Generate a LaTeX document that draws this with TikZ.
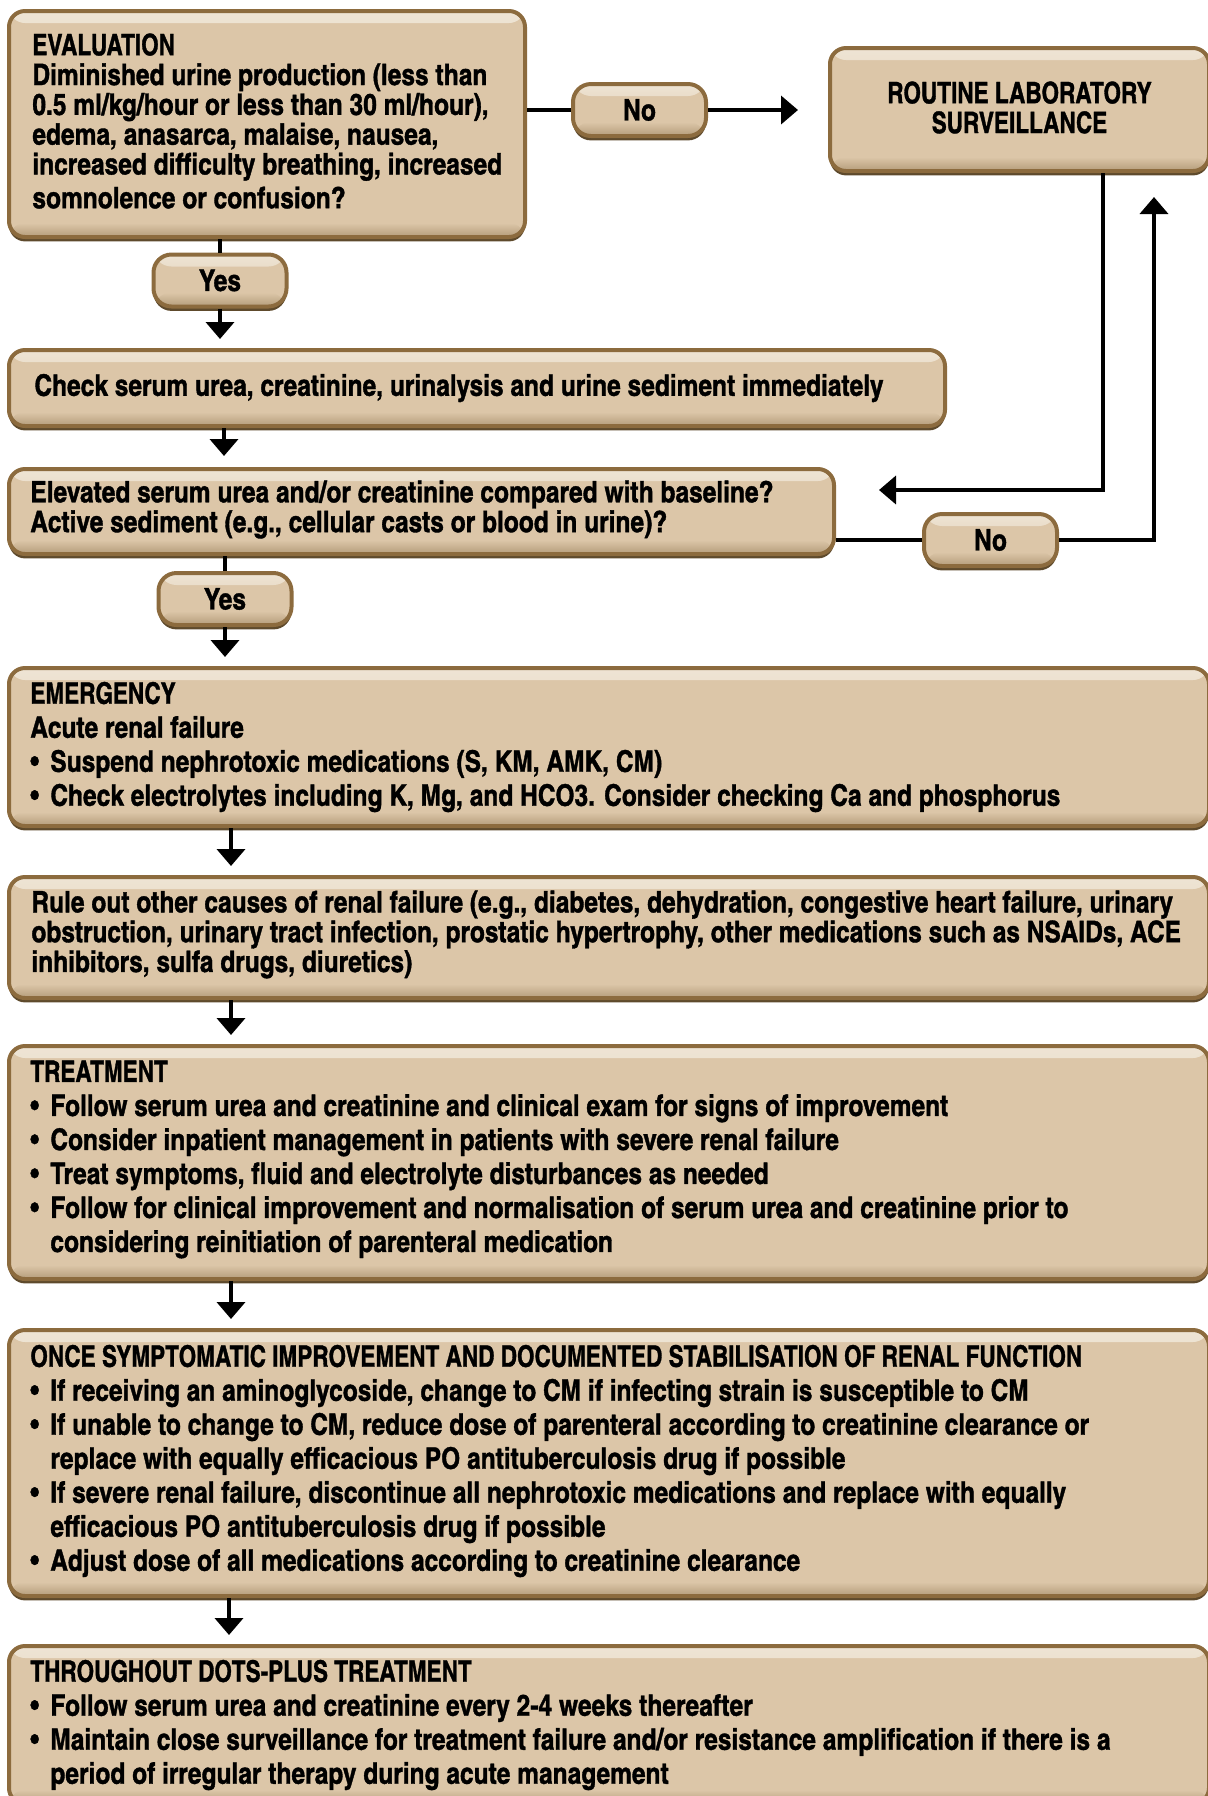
\documentclass[tikz,border=0pt]{standalone}
\usepackage{graphicx}
\usepackage{fontspec}
\IfFontExistsTF{texgyreheroscn-bold.otf}
  {\setmainfont{texgyreheroscn-bold.otf}[FakeStretch=1.01,FakeBold=1.2]}
  {\setmainfont{TeX Gyre Heros}[FakeStretch=0.85,FakeBold=3]}
\usetikzlibrary{arrows.meta,shadows}
\definecolor{boxfill}{HTML}{DCC6A8}
\definecolor{bordc}{HTML}{8C6B3E}
\definecolor{botc}{HTML}{5E4A2C}
\definecolor{hilite}{HTML}{EEE4D4}
\definecolor{shadowc}{HTML}{B49C7A}
\newlength\bulw
\setlength\bulw{10pt}
\newcommand\bitem{\makebox[\bulw][l]{\textbullet}}
\newcommand\bcont{\hspace*{\bulw}}
\newcommand\capx[1]{\scalebox{0.92}[1]{#1}}
\newcommand\fA{\fontsize{14.8}{17}\selectfont}
\newcommand\fB{\fontsize{14.8}{14.9}\selectfont}
\tikzset{
  box/.style={rounded corners=8pt, draw=bordc, line width=2pt, fill=boxfill, inner sep=0pt,
    drop shadow={shadow xshift=0pt, shadow yshift=-2.2pt, fill=botc, opacity=1},
    path picture={
      \shade[top color=hilite, bottom color=boxfill] (path picture bounding box.north west) rectangle ([yshift=-6pt]path picture bounding box.north east);
      \shade[top color=boxfill, bottom color=shadowc] ([yshift=7pt]path picture bounding box.south west) rectangle (path picture bounding box.south east);
    }},
  bigbox/.style={box, anchor=north west},
  pill/.style={box, rounded corners=9pt, minimum width=66.5pt, minimum height=26pt, font=\fA},
  txt/.style={anchor=west, align=left, inner sep=0pt},
  ln/.style={line width=1.9pt, draw=black},
  arr/.style={ln, -{Triangle[length=8.5pt,width=14pt]}},
}
\begin{document}
\begin{tikzpicture}[x=0.5pt,y=-0.5pt]
\useasboundingbox (0,0) rectangle (1208,1796);
\clip (0,0) rectangle (1208,1796);

% boxes
\node[bigbox, minimum width=258pt, minimum height=113pt] (eval) at (7,9) {};
\node[txt, font=\fB] (evalt) at ([xshift=12.5pt,yshift=1.5pt]eval.west) {\capx{EVALUATION}\\
Diminished urine production (less than\\
0.5 ml/kg/hour or less than 30 ml/hour),\\
edema, anasarca, malaise, nausea,\\
increased difficulty breathing, increased\\[2pt]
somnolence or confusion?};

\node[pill] (no1) at (639.5,110) {No};

\node[bigbox, minimum width=189.5pt, minimum height=61.5pt] (routine) at (828,46) {};
\node[align=center, inner sep=0pt, font=\fB] (routinet) at ([yshift=1pt]routine.center) {\capx{ROUTINE LABORATORY}\\\capx{SURVEILLANCE}};

\node[pill] (yes1) at (220,280.5) {Yes};

\node[bigbox, minimum width=468pt, minimum height=38pt] (check) at (7,348) {};
\node[txt, font=\fA] (checkt) at ([xshift=13.5pt]check.west) {Check serum urea, creatinine, urinalysis and urine sediment immediately};

\node[bigbox, minimum width=412.5pt, minimum height=42.5pt] (elev) at (7,467) {};
\node[txt, font=\fB] (elevt) at ([xshift=11.5pt,yshift=1pt]elev.west) {Elevated serum urea and/or creatinine compared with baseline?\\
Active sediment (e.g., cellular casts or blood in urine)?};

\node[pill] (no2) at (990.5,540) {No};
\node[pill] (yes2) at (225,599) {Yes};

\node[bigbox, minimum width=600pt, minimum height=79pt] (emerg) at (7,666) {};
\node[txt, font=\fA] (emergt) at ([xshift=11.5pt]emerg.west) {\capx{EMERGENCY}\\
Acute renal failure\\
\bitem Suspend nephrotoxic medications (S, KM, AMK, CM)\\
\bitem Check electrolytes including K, Mg, and HCO3. Consider checking Ca and phosphorus};

\node[bigbox, minimum width=600pt, minimum height=60.5pt] (rule) at (7,875) {};
\node[txt, font=\fB] (rulet) at ([xshift=12pt,yshift=1.5pt]rule.west) {Rule out other causes of renal failure (e.g., diabetes, dehydration, congestive heart failure, urinary\\
obstruction, urinary tract infection, prostatic hypertrophy, other medications such as NSAIDs, ACE\\
inhibitors, sulfa drugs, diuretics)};

\node[bigbox, minimum width=600pt, minimum height=116.5pt] (treat) at (7,1044) {};
\node[txt, font=\fA] (treatt) at ([xshift=11.5pt,yshift=1.5pt]treat.west) {\capx{TREATMENT}\\
\bitem Follow serum urea and creatinine and clinical exam for signs of improvement\\
\bitem Consider inpatient management in patients with severe renal failure\\
\bitem Treat symptoms, fluid and electrolyte disturbances as needed\\
\bitem Follow for clinical improvement and normalisation of serum urea and creatinine prior to\\
\bcont considering reinitiation of parenteral medication};

\node[bigbox, minimum width=600pt, minimum height=133pt] (once) at (7,1328) {};
\node[txt, font=\fA] (oncet) at ([xshift=11.5pt,yshift=1pt]once.west) {\capx{ONCE SYMPTOMATIC IMPROVEMENT AND DOCUMENTED STABILISATION OF RENAL FUNCTION}\\
\bitem If receiving an aminoglycoside, change to CM if infecting strain is susceptible to CM\\
\bitem If unable to change to CM, reduce dose of parenteral according to creatinine clearance or\\
\bcont replace with equally efficacious PO antituberculosis drug if possible\\
\bitem If severe renal failure, discontinue all nephrotoxic medications and replace with equally\\
\bcont efficacious PO antituberculosis drug if possible\\
\bitem Adjust dose of all medications according to creatinine clearance};

\node[bigbox, minimum width=600pt, minimum height=79pt] (thru) at (7,1644) {};
\node[txt, font=\fA] (thrut) at ([xshift=11.5pt]thru.west) {\capx{THROUGHOUT DOTS-PLUS TREATMENT}\\
\bitem Follow serum urea and creatinine every 2-4 weeks thereafter\\
\bitem Maintain close surveillance for treatment failure and/or resistance amplification if there is a\\
\bcont period of irregular therapy during acute management};

% helper coordinates
\coordinate (tipR) at (798,110);
\coordinate (xr) at (1103,0);
\coordinate (tipL) at (879,490);
\coordinate (tipU) at (1154,197);
\coordinate (xa) at (224,0);
\coordinate (xb) at (231,0);
\coordinate (xc) at (229,0);

% connectors
\draw[ln] (eval.east |- no1) -- (no1.west);
\draw[arr] (no1.east) -- (tipR);
\draw[ln] (eval.south -| yes1) -- (yes1.north);
\draw[arr, shorten >=4.5pt] (yes1.south) -- (yes1.south |- check.north);
\draw[arr, shorten >=5.5pt] (check.south -| xa) -- (elev.north -| xa);
\draw[arr] (routine.south -| xr) |- (tipL);
\draw[ln] (elev.east |- no2) -- (no2.west);
\draw[arr] (no2.east) -| (tipU);
\draw[ln] (elev.south -| yes2) -- (yes2.north);
\draw[arr, shorten >=4.5pt] (yes2.south) -- (yes2.south |- emerg.north);
\draw[arr, shorten >=4.5pt] (emerg.south -| xb) -- (rule.north -| xb);
\draw[arr, shorten >=4.5pt] (rule.south -| xb) -- (treat.north -| xb);
\draw[arr, shorten >=4.5pt] (treat.south -| xb) -- (once.north -| xb);
\draw[arr, shorten >=4.5pt] (once.south -| xc) -- (thru.north -| xc);
\end{tikzpicture}
\end{document}
